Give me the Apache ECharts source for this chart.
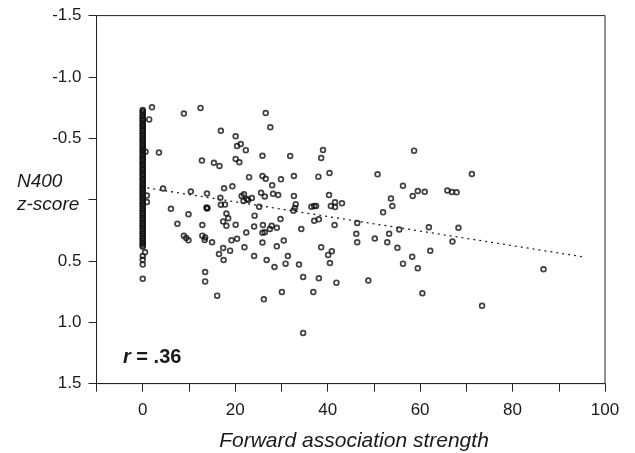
<!DOCTYPE html>
<html>
<head>
<meta charset="utf-8">
<script src="https://cdn.jsdelivr.net/npm/echarts@6/dist/echarts.min.js"></script>
<style>html,body{margin:0;padding:0;background:#fff}#chart{width:635px;height:453px}</style>
</head>
<body>
<div id="chart"></div>
<script>
// ---- data ----
const xTickLabels = ['0', '20', '40', '60', '80', '100'];
const yTickLabels = ['-1.5', '-1.0', '-0.5', '0.5', '1.0', '1.5'];
const xTitle = 'Forward association strength';
const yTitle = ['N400', 'z-score'];
const rText = '.36';

// pairs with forward association strength = 0 (dense column)
const zeroColumnY = [-0.73, -0.72, -0.705, -0.69, -0.68, -0.665, -0.65, -0.64, -0.625, -0.61, -0.60, -0.585,
  -0.57, -0.56, -0.545, -0.53, -0.52, -0.505, -0.49, -0.48, -0.465, -0.45, -0.44, -0.425, -0.41, -0.40,
  -0.385, -0.37, -0.36, -0.345, -0.33, -0.32, -0.305, -0.29, -0.28, -0.265, -0.25, -0.24, -0.225, -0.21,
  -0.20, -0.185, -0.17, -0.16, -0.145, -0.13, -0.12, -0.105, -0.09, -0.08, -0.065, -0.05, -0.04, -0.025,
  -0.01, 0.00, 0.015, 0.03, 0.04, 0.055, 0.07, 0.08, 0.095, 0.11, 0.12, 0.135, 0.15, 0.16, 0.175, 0.19,
  0.20, 0.215, 0.23, 0.24, 0.255, 0.27, 0.28, 0.295, 0.31, 0.32, 0.335, 0.35, 0.36, 0.375, 0.385,
  0.46, 0.49, 0.53, 0.645];

// other pairs [strength, z]
const points = [
  [2.0,-0.752],[1.4,-0.654],[8.9,-0.702],[12.5,-0.747],[26.6,-0.706],[27.6,-0.590],[16.9,-0.561],
  [20.1,-0.516],[21.2,-0.453],[20.4,-0.437],[22.3,-0.403],[3.5,-0.384],[0.6,-0.390],[25.9,-0.357],
  [12.8,-0.319],[15.4,-0.301],[16.6,-0.274],[20.1,-0.331],[20.9,-0.304],[23.0,-0.183],[25.9,-0.192],
  [26.6,-0.170],[4.4,-0.090],[10.4,-0.066],[13.9,-0.050],[17.6,-0.093],[19.4,-0.108],[16.8,-0.015],
  [21.4,-0.029],[21.9,-0.043],[22.5,-0.005],[21.8,0.011],[22.8,0.003],[23.6,-0.013],[25.6,-0.056],
  [26.4,-0.025],[25.2,0.058],[16.9,0.042],[17.8,0.040],[13.8,0.065],[14.0,0.068],[13.9,0.072],
  [6.1,0.075],[9.9,0.120],[18.1,0.113],[18.5,0.152],[17.4,0.178],[18.1,0.214],[24.2,0.131],
  [7.5,0.197],[12.9,0.207],[20.1,0.205],[24.1,0.219],[26.0,0.207],[8.9,0.295],[9.4,0.313],
  [9.9,0.332],[12.9,0.294],[13.5,0.309],[13.4,0.329],[15.0,0.348],[22.4,0.268],[25.9,0.271],
  [26.4,0.267],[19.2,0.332],[20.4,0.319],[25.9,0.350],[17.4,0.394],[18.9,0.416],[16.5,0.443],
  [22.0,0.389],[17.5,0.492],[24.1,0.460],[26.8,0.492],[13.5,0.590],[13.5,0.667],[16.1,0.783],
  [26.2,0.813],[31.9,-0.355],[39.0,-0.404],[38.6,-0.339],[58.7,-0.399],[29.9,-0.165],[32.7,-0.192],
  [38.0,-0.187],[40.4,-0.217],[50.8,-0.206],[71.2,-0.209],[28.0,-0.117],[28.2,-0.048],[29.3,-0.037],
  [32.7,-0.029],[40.3,-0.037],[56.3,-0.113],[59.5,-0.070],[61.0,-0.064],[58.4,-0.029],[65.9,-0.074],
  [66.9,-0.062],[67.9,-0.059],[53.7,-0.009],[54.0,0.052],[52.0,0.104],[33.1,0.038],[32.9,0.068],
  [32.6,0.090],[36.5,0.058],[37.1,0.052],[37.5,0.052],[40.7,0.052],[41.6,0.022],[41.6,0.060],
  [43.1,0.030],[29.8,0.158],[37.1,0.172],[38.1,0.161],[27.9,0.213],[29.0,0.229],[27.5,0.240],
  [30.5,0.333],[29.0,0.381],[34.3,0.240],[41.5,0.207],[46.4,0.191],[55.5,0.244],[61.9,0.226],
  [68.3,0.229],[46.2,0.278],[46.4,0.348],[50.2,0.317],[53.3,0.278],[52.9,0.348],[55.1,0.392],
  [62.2,0.417],[67.0,0.341],[38.6,0.388],[40.9,0.421],[40.1,0.451],[40.5,0.517],[31.4,0.460],
  [28.5,0.549],[30.9,0.522],[33.8,0.529],[34.7,0.631],[38.1,0.641],[48.8,0.659],[56.3,0.522],
  [58.3,0.466],[59.5,0.560],[36.9,0.753],[41.9,0.677],[30.1,0.753],[34.7,1.087],[60.5,0.764],
  [86.7,0.568],[73.4,0.865],[0.9,-0.033],[0.9,0.020],[0.5,0.43]
];

// regression line end points
const fitX = [1, 95];
const fitY = [-0.095, 0.465];

// ---- chart ----
const chart = echarts.init(document.getElementById('chart'), null, {renderer: 'canvas'});
const txt = '#1a1a1a';
const font = 'Liberation Sans, Arial, Helvetica, sans-serif';
const scatterData = zeroColumnY.map(y => [0, y]).concat(points);

chart.setOption({
  animation: false,
  backgroundColor: '#fff',
  grid: {left: 96.5, right: 30, top: 15.6, bottom: 69.4, show: true, borderColor: '#222', borderWidth: 1},
  xAxis: {
    type: 'value', min: -10, max: 100, interval: 10,
    axisLine: {show: true, onZero: false, lineStyle: {color: '#222', width: 1}},
    axisTick: {show: true, inside: false, length: 8, lineStyle: {color: '#222'}},
    axisLabel: {
      color: txt, fontSize: 17, fontFamily: font, margin: 18,
      formatter: v => { const s = String(Math.round(v)); return xTickLabels.includes(s) ? s : ''; }
    },
    splitLine: {show: false}
  },
  yAxis: {
    type: 'value', min: -1.5, max: 1.5, interval: 0.5, inverse: true,
    axisLine: {show: true, onZero: false, lineStyle: {color: '#222', width: 1}},
    axisTick: {show: true, inside: false, length: 8, lineStyle: {color: '#222'}},
    axisLabel: {
      color: txt, fontSize: 17, fontFamily: font, margin: 15,
      formatter: v => { const s = v.toFixed(1); return yTickLabels.includes(s) ? s : ''; }
    },
    splitLine: {show: false}
  },
  series: [
    {
      type: 'line', data: fitX.map((x, i) => [x, fitY[i]]), symbol: 'none', silent: true,
      lineStyle: {color: '#222', width: 1.3, type: [2, 4]}, z: 1
    },
    {
      type: 'scatter', data: scatterData, symbol: 'circle', symbolSize: 4.8,
      itemStyle: {color: 'rgba(0,0,0,0)', borderColor: '#111', borderWidth: 1.7}, z: 2
    }
  ],
  graphic: [
    {type: 'text', left: 17, top: 170, style: {text: yTitle.join('\n'), font: 'italic 19px ' + font, fill: txt, lineHeight: 23}},
    {type: 'text', x: 354, y: 441, style: {text: xTitle, font: 'italic 21px ' + font, fill: txt, align: 'center', verticalAlign: 'middle'}},
    {type: 'text', x: 123, y: 357, style: {
      text: '{r|r}{n| = ' + rText + '}', verticalAlign: 'middle',
      rich: {r: {font: 'italic bold 20px ' + font, fill: txt}, n: {font: 'bold 20px ' + font, fill: txt}}
    }}
  ]
});
</script>
</body>
</html>
